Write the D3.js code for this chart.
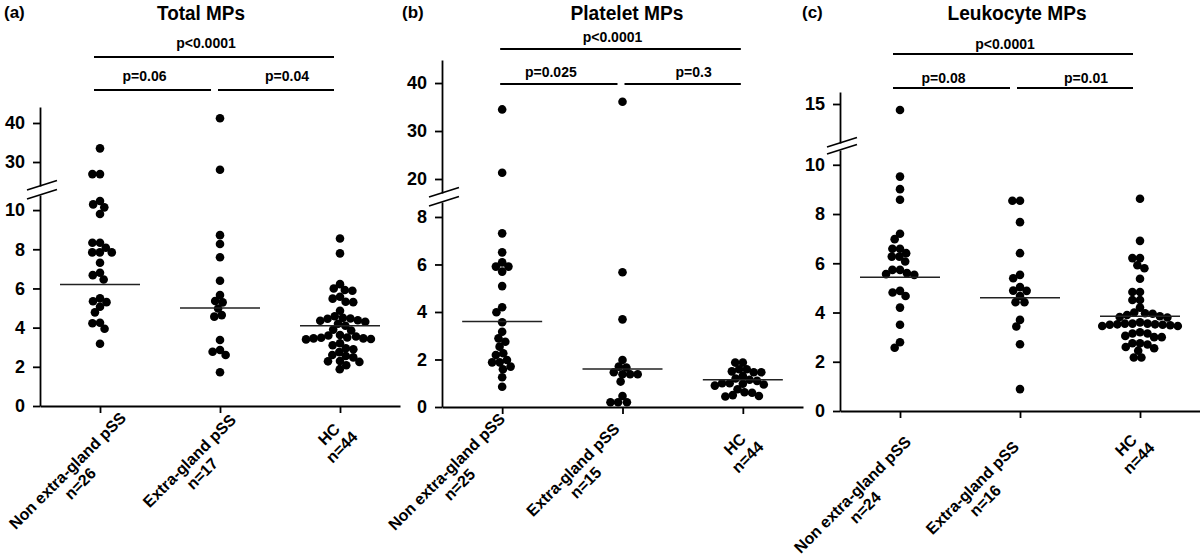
<!DOCTYPE html>
<html><head><meta charset="utf-8">
<script src="https://cdn.jsdelivr.net/npm/d3@7"></script>
<style>
body{margin:0;background:#fff}
svg{display:block}
text{font-family:"Liberation Sans",Arial,Helvetica,sans-serif;font-weight:bold;fill:#000}
</style>
</head><body><svg id="chart" width="1200" height="559"></svg>
<script>
// ---------------- DATA ----------------
const categoryNames = ["Non extra-gland pSS", "Extra-gland pSS", "HC"];
const nTotal = [26, 17, 44];
const nPlatelet = [25, 15, 44];
const nLeukocyte = [24, 16, 44];
const panelLetters = ["(a)", "(b)", "(c)"];
const panelTitles = ["Total MPs", "Platelet MPs", "Leukocyte MPs"];

// Total MPs
const totalNonExtra = [33.5, 26.9, 26.9, 10.46, 10.29, 10.14, 9.8, 8.33, 8.33, 8.08, 7.84, 7.84, 7.84, 7.31, 6.8, 6.68, 6.46, 5.5, 5.35, 5.3, 5.07, 4.78, 4.25, 4.22, 3.94, 3.18];
const totalExtra = [41.2, 28, 8.72, 8.27, 7.59, 6.39, 5.66, 5.36, 5.29, 4.98, 4.64, 4.56, 3.37, 2.86, 2.77, 2.6, 1.72];
const totalHC = [8.55, 7.79, 6.22, 6.0, 5.92, 5.88, 5.58, 5.48, 5.32, 5.3, 4.86, 4.58, 4.5, 4.47, 4.45, 4.38, 4.35, 4.3, 4.2, 4.1, 3.9, 3.85, 3.62, 3.6, 3.55, 3.5, 3.48, 3.45, 3.45, 3.42, 3.4, 3.2, 3.1, 2.95, 2.9, 2.75, 2.6, 2.55, 2.48, 2.3, 2.28, 2.25, 2.08, 1.88];
const totalMedians = [6.2, 5.0, 4.1];
const totalTicksLow = [0, 2, 4, 6, 8, 10];
const totalTicksHigh = [30, 40];
const totalP = ["p<0.0001", "p=0.06", "p=0.04"];

// Platelet MPs
const plateletNonExtra = [34.5, 21.3, 7.31, 6.51, 6.09, 5.91, 5.91, 5.7, 5.09, 4.2, 3.99, 3.57, 3.17, 2.89, 2.75, 2.54, 2.26, 2.19, 1.98, 1.88, 1.88, 1.7, 1.59, 1.25, 0.85];
const plateletExtra = [36.1, 5.67, 3.69, 1.98, 1.7, 1.66, 1.46, 1.38, 1.38, 1.38, 1.07, 0.46, 0.2, 0.2, 0.2];
const plateletHC = [1.87, 1.87, 1.59, 1.59, 1.5, 1.46, 1.46, 1.3, 1.2, 1.15, 1.1, 1.0, 1.0, 0.98, 0.95, 0.9, 0.75, 0.62, 0.6, 0.5, 0.46, 0.44];
const plateletMedians = [3.6, 1.6, 1.15];
const plateletTicksLow = [0, 2, 4, 6, 8];
const plateletTicksHigh = [20, 30, 40];
const plateletP = ["p<0.0001", "p=0.025", "p=0.3"];

// Leukocyte MPs
const leukoNonExtra = [14.5, 9.52, 9.01, 8.58, 7.2, 6.98, 6.59, 6.59, 6.41, 6.27, 6.27, 6.07, 5.73, 5.73, 5.6, 5.56, 5.53, 4.88, 4.81, 4.67, 4.2, 3.5, 2.79, 2.57];
const leukoExtra = [8.54, 8.54, 7.67, 6.41, 5.53, 5.39, 5.03, 4.89, 4.88, 4.67, 4.42, 4.42, 3.7, 3.43, 2.71, 0.89];
const leukoHC = [8.62, 6.91, 6.21, 6.21, 5.92, 5.8, 5.37, 4.83, 4.83, 4.51, 4.51, 4.2, 4.0, 3.97, 3.95, 3.9, 3.85, 3.82, 3.8, 3.6, 3.55, 3.55, 3.55, 3.52, 3.52, 3.5, 3.5, 3.48, 3.45, 3.45, 3.2, 3.15, 3.15, 3.05, 3.0, 3.0, 2.75, 2.75, 2.7, 2.6, 2.55, 2.45, 2.17, 2.17];
const leukoMedians = [5.43, 4.6, 3.85];
const leukoTicksLow = [0, 2, 4, 6, 8, 10];
const leukoTicksHigh = [15];
const leukoP = ["p<0.0001", "p=0.08", "p=0.01"];

// ---------------- LAYOUT ----------------
const panels = [
  {letter: panelLetters[0], title: panelTitles[0], groups: [totalNonExtra, totalExtra, totalHC], ns: nTotal,
   medians: totalMedians, ticksLow: totalTicksLow, ticksHigh: totalTicksHigh, p: totalP,
   x0: 40, x1: 400, yZero: 406, lowTop: 195, lowMax: 10.77, upBottom: 186, upMin: 23.85, yTop: 107, upMax: 44.1,
   letterX: 4, titleX: 201, titleW: 88, barTop: 57, barLow: 90, barShift: -6, pGap: 9,
   labelOff: [[27, 13], [17, 15], [1, 24]]},
  {letter: panelLetters[1], title: panelTitles[1], groups: [plateletNonExtra, plateletExtra, plateletHC], ns: nPlatelet,
   medians: plateletMedians, ticksLow: plateletTicksLow, ticksHigh: plateletTicksHigh, p: plateletP,
   x0: 442, x1: 803, yZero: 407, lowTop: 202, lowMax: 8.63, upBottom: 193, upMin: 17.08, yTop: 60, upMax: 44.8,
   letterX: 402, titleX: 627, titleW: 113, barTop: 49, barLow: 84, barShift: -2, pGap: 7.5,
   labelOff: [[4, 13], [-2, 23], [4, 33]]},
  {letter: panelLetters[2], title: panelTitles[2], groups: [leukoNonExtra, leukoExtra, leukoHC], ns: nLeukocyte,
   medians: leukoMedians, ticksLow: leukoTicksLow, ticksHigh: leukoTicksHigh, p: leukoP,
   x0: 840, x1: 1200, yZero: 411, lowTop: 150, lowMax: 10.6, upBottom: 143, upMin: 11.75, yTop: 92, upMax: 16,
   letterX: 802, titleX: 1017, titleW: 139, barTop: 54, barLow: 88, barShift: -7, pGap: 5.5,
   labelOff: [[12, 32], [0, 37], [-2, 30]]}
];

const R = 4.3, D = 7.6;
const svg = d3.select("#chart");

function swarm(values, yFn) {
  const placed = [];
  return values.map(v => {
    const y = yFn(v);
    const blocks = [];
    placed.forEach(q => {
      const dy = Math.abs(q.y - y);
      if (dy < D) { const dx = Math.sqrt(D * D - dy * dy); blocks.push([q.x - dx, q.x + dx]); }
    });
    let cands = [0];
    blocks.forEach(b => cands.push(b[0], b[1]));
    cands = cands.filter(c => blocks.every(b => c <= b[0] + 1e-6 || c >= b[1] - 1e-6));
    cands.sort((a, b) => (Math.abs(a) - Math.abs(b)) || (a - b));
    const p = {v, y, x: cands[0]};
    placed.push(p);
    return p;
  });
}

panels.forEach(P => {
  const g = svg.append("g");
  const x = d3.scalePoint().domain(categoryNames).range([P.x0, P.x1]).padding(0.5);
  const yLow = d3.scaleLinear().domain([0, P.lowMax]).range([P.yZero, P.lowTop]);
  const yHigh = d3.scaleLinear().domain([P.upMin, P.upMax]).range([P.upBottom, P.yTop]);
  const yv = v => v <= P.lowMax ? yLow(v) : yHigh(v);

  // letter + title
  g.append("text").attr("x", P.letterX).attr("y", 18).style("font-size", "17px").text(P.letter);
  g.append("text").attr("x", P.titleX).attr("y", 20).attr("text-anchor", "middle").style("font-size", "20px")
    .attr("textLength", P.titleW).attr("lengthAdjust", "spacingAndGlyphs").text(P.title);

  // y axes (broken)
  const styleAxis = sel => {
    sel.attr("font-family", null).attr("font-size", null);
    sel.selectAll("path,line").attr("stroke", "#000").attr("stroke-width", 1.8);
    sel.selectAll("text").style("font-size", "18px").attr("fill", "#000");
  };
  const fmt = d3.format("d");
  g.append("g").attr("transform", `translate(${P.x0},0)`)
    .call(d3.axisLeft(yLow).tickValues(P.ticksLow).tickFormat(fmt).tickSize(7).tickPadding(8).tickSizeOuter(0)).call(styleAxis);
  g.append("g").attr("transform", `translate(${P.x0},0)`)
    .call(d3.axisLeft(yHigh).tickValues(P.ticksHigh).tickFormat(fmt).tickSize(7).tickPadding(8).tickSizeOuter(0)).call(styleAxis);
  // break marks
  [P.upBottom, P.lowTop].forEach(yy => {
    g.append("line").attr("x1", P.x0 - 13).attr("y1", yy + 4.1).attr("x2", P.x0 + 17).attr("y2", yy - 5.4)
      .attr("stroke", "#000").attr("stroke-width", 1.6);
  });

  // x axis
  g.append("g").attr("transform", `translate(0,${P.yZero})`)
    .call(d3.axisBottom(x).tickSize(7).tickSizeOuter(0).tickFormat(""))
    .call(sel => sel.selectAll("path,line").attr("stroke", "#000").attr("stroke-width", 1.8));

  // x labels rotated
  categoryNames.forEach((c, i) => {
    const off = P.labelOff[i];
    const lg = g.append("g").attr("transform", `translate(${x(c) + off[0]},${P.yZero + off[1]}) rotate(-45)`);
    const t1 = lg.append("text").attr("text-anchor", "end").style("font-size", "16px").text(c);
    const w1 = t1.node().getComputedTextLength();
    lg.append("text").attr("text-anchor", "middle").attr("x", -w1 / 2).attr("y", 18).style("font-size", "16px").text("n=" + P.ns[i]);
  });

  // dots
  P.groups.forEach((vals, i) => {
    const pts = swarm(vals, yv);
    g.append("g").selectAll("circle").data(pts).join("circle")
      .attr("cx", d => x(categoryNames[i]) + d.x).attr("cy", d => d.y).attr("r", R).attr("fill", "#000");
    g.append("line").attr("x1", x(categoryNames[i]) - 40).attr("x2", x(categoryNames[i]) + 40)
      .attr("y1", yv(P.medians[i])).attr("y2", yv(P.medians[i]))
      .attr("stroke", "#222").attr("stroke-width", 1.6);
  });

  // significance bars
  const cx = categoryNames.map(c => x(c) + P.barShift);
  const bars = [
    {a: cx[0], b: cx[2], y: P.barTop, t: P.p[0], dx: -8},
    {a: cx[0], b: cx[1] - 3, y: P.barLow, t: P.p[1], dx: -8},
    {a: cx[1] + 4, b: cx[2], y: P.barLow, t: P.p[2], dx: 11}
  ];
  bars.forEach(bb => {
    g.append("line").attr("x1", bb.a).attr("x2", bb.b).attr("y1", bb.y).attr("y2", bb.y)
      .attr("stroke", "#000").attr("stroke-width", 1.8);
    g.append("text").attr("x", (bb.a + bb.b) / 2 + bb.dx).attr("y", bb.y - P.pGap)
      .attr("text-anchor", "middle").style("font-size", "14px").text(bb.t);
  });
});
</script>
</body></html>
